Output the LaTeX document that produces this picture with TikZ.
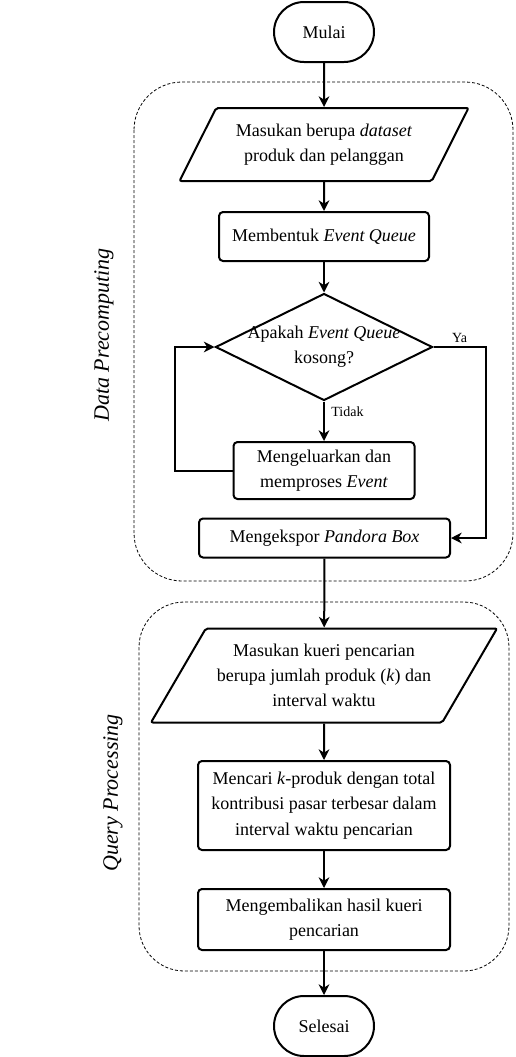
\documentclass[tikz,border=0pt]{standalone}
\usepackage{fontspec}
\setmainfont{Liberation Serif}
\usetikzlibrary{shapes.geometric,arrows.meta}

\tikzset{every picture/.style={line width=0.75pt}}
\tikzset{
teks/.style={font=\fontsize{13.5}{19}\selectfont, align=center, inner sep=0.75pt},
terminal/.style={teks, draw, line width=1.5pt, rounded corners=22.5pt, minimum width=75pt, minimum height=45pt},
proses/.style={teks, draw, line width=1.5pt, rounded corners=3pt},
masukan/.style={teks, draw, line width=1.5pt, rounded corners=1.5pt, trapezium, trapezium left angle=50, trapezium right angle=130, trapezium stretches body},
keputusan/.style={draw, line width=1.5pt, diamond, inner sep=0pt, minimum width=162.75pt, minimum height=80.25pt},
alur/.style={line width=1.5pt, -{Stealth[length=8pt,width=8pt,inset=2.5pt]}},
kecil/.style={font=\fontsize{10.5}{12}\selectfont, inner sep=0.75pt},
grup/.style={line width=0.6pt, dash pattern=on 2.25pt off 1.5pt},
judul/.style={font=\fontsize{16.5}{20}\selectfont\itshape, rotate=90, inner sep=0.75pt}
}

\begin{document}
\begin{tikzpicture}[x=0.75pt,y=0.75pt,yscale=-1,xscale=1]
\useasboundingbox (0,0) rectangle (515,1057);

%Shape: Group boxes
\draw [grup, rounded corners=36pt] (134,82) rectangle (513,581) ;
\draw [grup, rounded corners=34pt] (139,602) rectangle (509,971) ;

% Text Node
\draw (104,335) node [judul] (lblpre) {Data Precomputing};
% Text Node
\draw (113,793) node [judul] (lblquery) {Query Processing};

%Shape: Terminator
\draw (324,32) node [terminal] (mulai) {Mulai};
%Shape: Parallelogram
\draw (324,144.5) node [masukan, minimum width=216.75pt, minimum height=54.75pt] (dataset) {Masukan berupa \textit{dataset}\\produk dan pelanggan};
%Shape: Rectangle
\draw (324,236.5) node [proses, minimum width=157.5pt, minimum height=36.75pt] (bentuk) {Membentuk \textit{Event Queue}};
%Shape: Diamond
\draw (324,347) node [keputusan, label={[teks]center:{Apakah \textit{Event Queue}\\kosong?}}] (cek) {};
%Shape: Rectangle
\draw (324,470.5) node [proses, minimum width=135.75pt, minimum height=42.75pt] (keluar) {Mengeluarkan dan\\memproses \textit{Event}};
%Shape: Rectangle
\draw (324.5,538) node [proses, minimum width=188.25pt, minimum height=29.25pt] (ekspor) {Mengekspor \textit{Pandora Box}};

%Shape: Parallelogram
\draw (324,675.5) node [masukan, minimum width=259.5pt, minimum height=70.5pt] (kueri) {Masukan kueri pencarian\\berupa jumlah produk (\textit{k}) dan\\interval waktu};
%Shape: Rectangle
\draw (324,805.5) node [proses, minimum width=189pt, minimum height=66.75pt] (cari) {Mencari \textit{k}-produk dengan total\\kontribusi pasar terbesar dalam\\interval waktu pencarian};
%Shape: Rectangle
\draw (324,919.5) node [proses, minimum width=189pt, minimum height=45.75pt] (hasil) {Mengembalikan hasil kueri\\pencarian};
%Shape: Terminator
\draw (324,1026) node [terminal] (selesai) {Selesai};

%Straight Lines
\draw [alur] (mulai) -- (dataset) ;
\draw [alur] (dataset) -- (bentuk) ;
\draw [alur] (bentuk) -- (cek) ;
\draw [alur] (cek) -- node [kecil, pos=0.26, anchor=west, xshift=4pt] {Tidak} (keluar) ;
\draw [alur] (cek.east) -- node [kecil, above, yshift=2pt] {Ya} ++(52,0) |- (ekspor.east) ;
\draw [alur] (keluar.west) -- ++(-58,0) |- (cek.west) ;
\draw [alur] (ekspor) -- (kueri) ;
\draw [alur] (kueri) -- (cari) ;
\draw [alur] (cari) -- (hasil) ;
\draw [alur] (hasil) -- (selesai) ;

\end{tikzpicture}
\end{document}
